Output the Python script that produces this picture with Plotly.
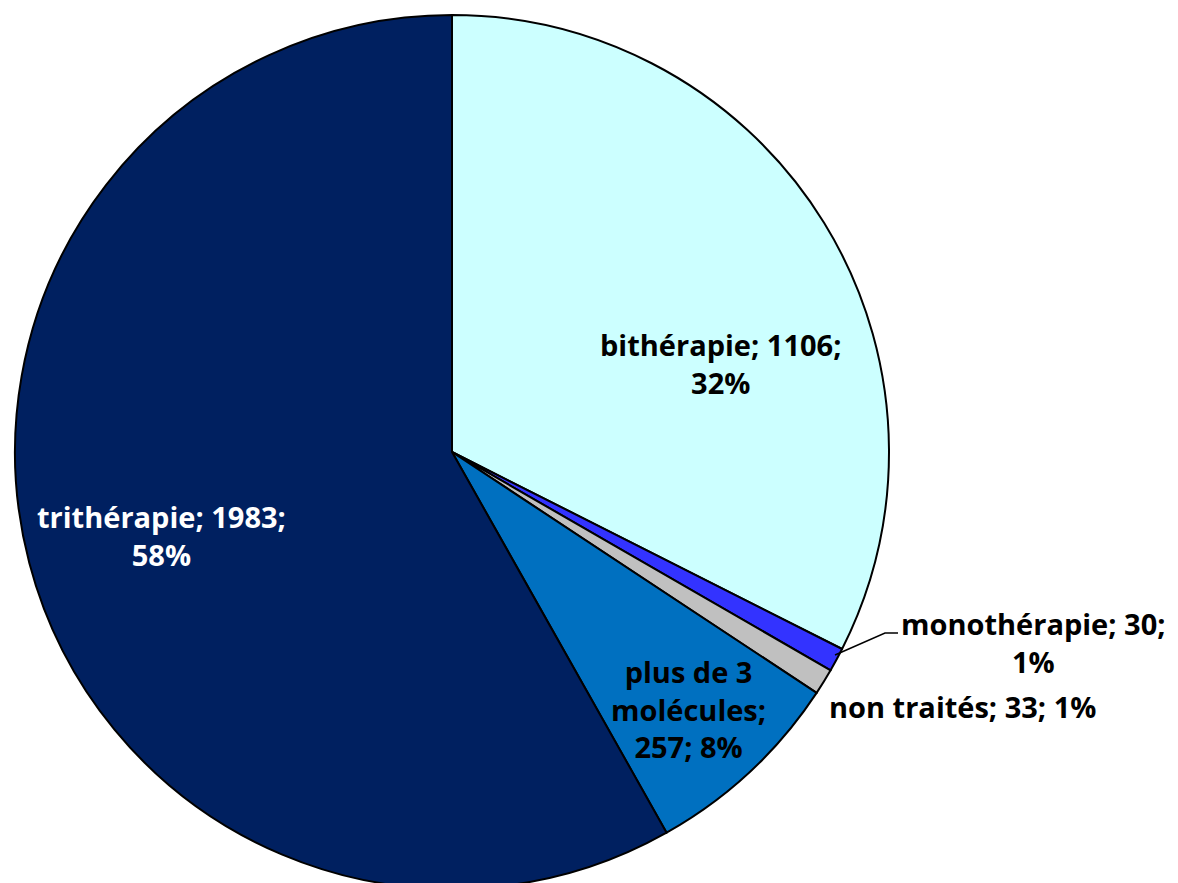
import plotly.graph_objects as go

labels = ["bithérapie", "monothérapie", "non traités", "plus de 3 molécules", "trithérapie"]
values = [1106, 30, 33, 257, 1983]
colors = ["#CCFFFF", "#3333FF", "#C0C0C0", "#0070C0", "#002060"]
label_texts = [
    "bithérapie; 1106;<br>32%",
    "monothérapie; 30;<br>1%",
    "non traités; 33; 1%",
    "plus de 3<br>molécules;<br>257; 8%",
    "trithérapie; 1983;<br>58%",
]
label_colors = ["black", "black", "black", "black", "white"]
# label centres in pixels (x, y from top)
label_pos = [(721, 363), (1033, 642), (962, 706), (688, 709), (161, 535)]

W, H = 1178, 904

fig = go.Figure(go.Pie(
    labels=labels, values=values, sort=False, direction="clockwise",
    marker=dict(colors=colors, line=dict(color="black", width=2)),
    textinfo="none", hoverinfo="label+value+percent", showlegend=False,
    domain=dict(x=[15 / W, 889 / W], y=[1 - 889 / H, 1 - 15 / H]),
))

for t, c, (px, py) in zip(label_texts, label_colors, label_pos):
    fig.add_annotation(x=px / W, y=1 - py / H, xref="paper", yref="paper",
                       text=t, showarrow=False,
                       font=dict(family="Open Sans", size=29, color=c, weight="bold"),
                       xanchor="center", yanchor="middle", align="center")

# leader line for monothérapie
fig.add_shape(type="path", xref="paper", yref="paper",
              path=f"M {835/W},{1-655/H} L {885/W},{1-633/H} L {898/W},{1-633/H}",
              line=dict(color="black", width=1.5))

fig.update_layout(width=W, height=H, margin=dict(l=0, r=0, t=0, b=0),
                  paper_bgcolor="white", plot_bgcolor="white")

fig.write_html("out.html", config={"displayModeBar": False}, post_script=(
    "document.body.style.margin='0';"
    "document.documentElement.style.overflow='hidden';"
    "document.body.style.overflow='hidden';"))
